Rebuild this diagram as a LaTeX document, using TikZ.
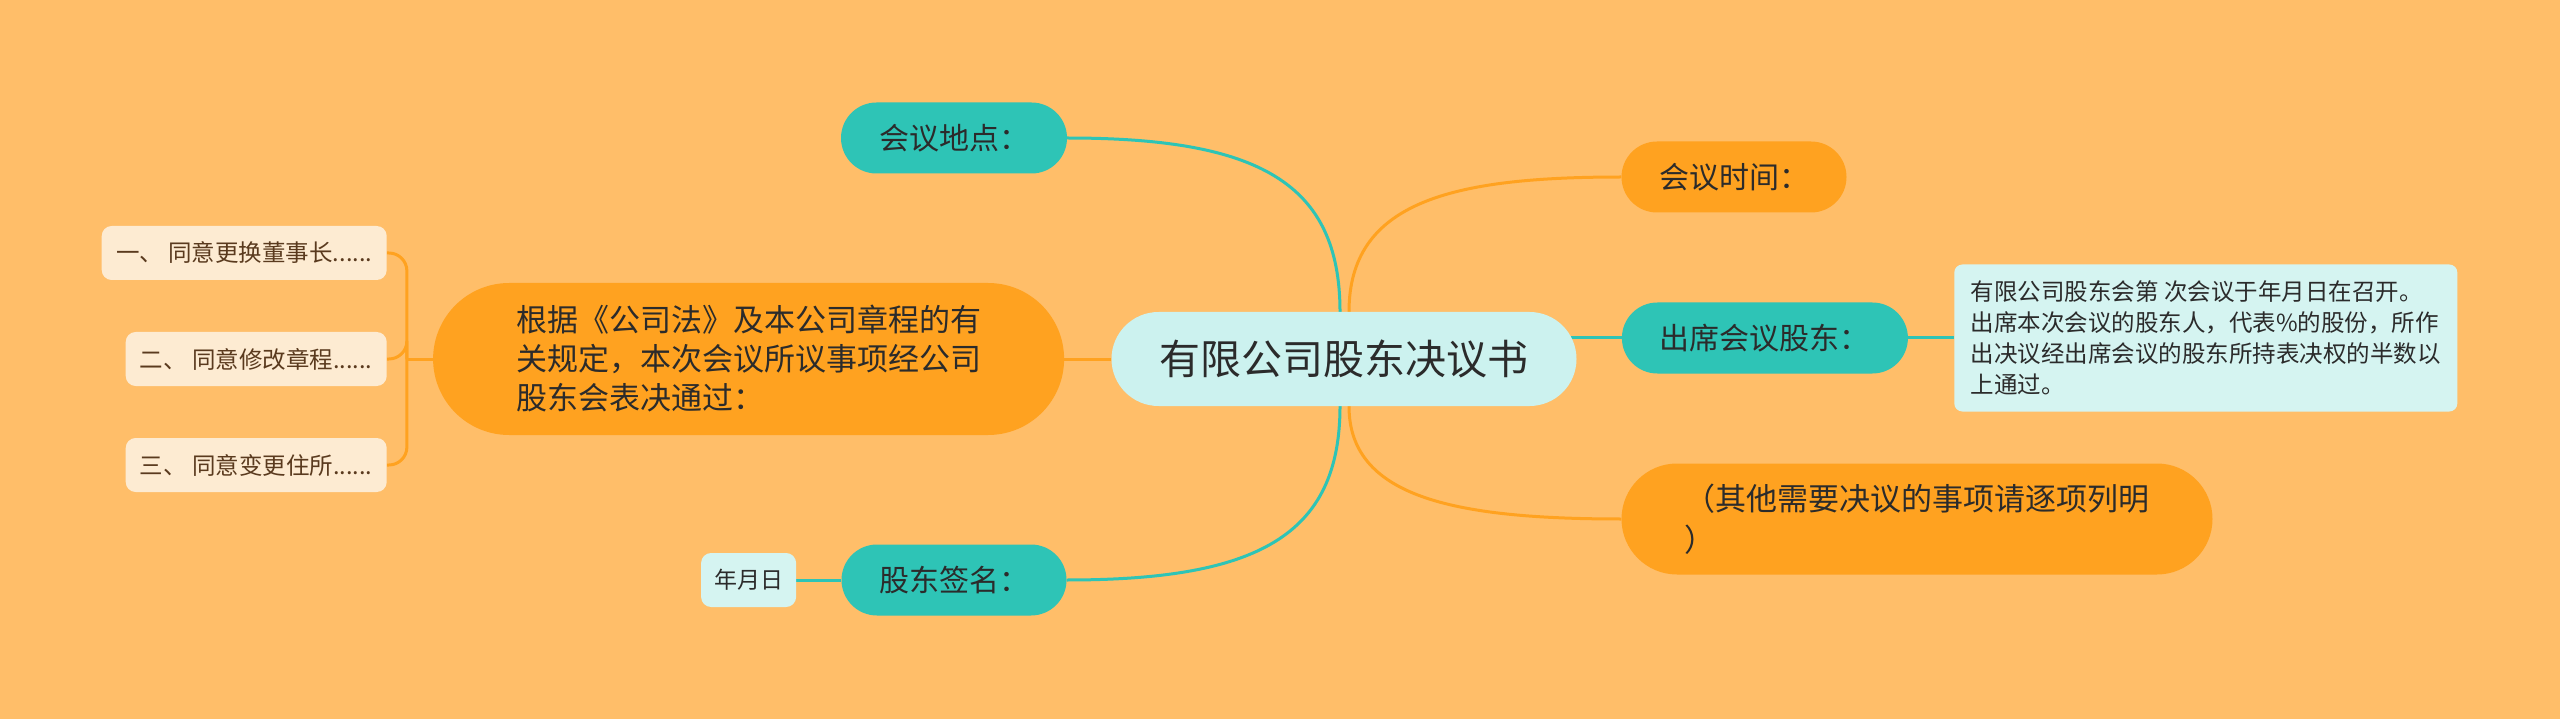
\documentclass[tikz,border=0pt]{standalone}
\usepackage{fontspec}
\setmainfont{Noto Sans CJK SC}
\usetikzlibrary{positioning, shapes.misc, backgrounds}

\definecolor{bgc}{HTML}{FFBE69}
\definecolor{orangec}{HTML}{FFA220}
\definecolor{tealc}{HTML}{2EC4B6}
\definecolor{rootc}{HTML}{CCF2EF}
\definecolor{notec}{HTML}{D5F4F1}
\definecolor{creamc}{HTML}{FDEBD2}
\definecolor{inkc}{HTML}{2B2B2B}
\definecolor{brownc}{HTML}{5A3A1E}

\begin{document}
\begin{tikzpicture}[
    x=1pt, y=-1pt,
    node distance=46pt,
    pill/.style={rounded rectangle, inner xsep=0pt, inner ysep=0pt, align=left, text=inkc, font=\fontsize{30}{40}\selectfont},
    rootnode/.style={pill, fill=rootc, minimum width=465pt, minimum height=94pt, font=\fontsize{41}{48}\selectfont},
    tealnode/.style={pill, fill=tealc, minimum height=71pt},
    orangenode/.style={pill, fill=orangec, minimum height=71pt},
    leaf/.style={rectangle, rounded corners=10pt, fill=creamc, text=brownc, minimum height=54pt, inner xsep=12pt, font=\fontsize{23.5}{28}\selectfont},
    note/.style={rectangle, rounded corners=8pt, fill=notec, text=inkc, align=left, inner xsep=12pt, font=\fontsize{23.5}{31}\selectfont},
    tline/.style={draw=tealc, line width=3pt},
    oline/.style={draw=orangec, line width=3pt}
]
\useasboundingbox (0,0) rectangle (2560,719);

\node[rootnode] (root) at (1344,359) {有限公司股东决议书};

\node[tealnode, minimum width=226pt] (loc) at (954,138) {会议地点：};
\node[tealnode, minimum width=225pt] (sign) at (954,580) {股东签名：};
\node[note, minimum width=95pt, minimum height=54pt, inner xsep=0pt, rounded corners=10pt, font=\fontsize{23}{28}\selectfont, left=45pt of sign] (date) {年月日};

\node[orangenode, minimum width=631pt, minimum height=152pt, font=\fontsize{31}{39}\selectfont, left=47pt of root] (basis) {根据《公司法》及本公司章程的有\\关规定，本次会议所议事项经公司\\股东会表决通过：};
\node[leaf, minimum width=285pt, left=46pt of basis, yshift=106pt] (r1) {一、 同意更换董事长......};
\node[leaf, minimum width=261pt, left=46pt of basis] (r2) {二、 同意修改章程......};
\node[leaf, minimum width=261pt, left=46pt of basis, yshift=-106pt] (r3) {三、 同意变更住所......};

\node[orangenode, minimum width=225pt] (time) at (1734,177) {会议时间：};
\node[tealnode, minimum width=286pt, right=45pt of root, yshift=21pt] (attend) {出席会议股东：};
\node[note, minimum width=503pt, minimum height=147pt, right=46pt of attend] (detail) {有限公司股东会第 次会议于年月日在召开。\\出席本次会议的股东人，代表\%的股份，所作\\出决议经出席会议的股东所持表决权的半数以\\上通过。};
\node[orangenode, minimum width=591pt, minimum height=111pt, font=\fontsize{31}{41}\selectfont] (other) at (1917,519) {（其他需要决议的事项请逐项列明\\）};

\begin{scope}[on background layer]
    \fill[bgc] (0,0) rectangle (2560,719);
    \draw[tline] ([xshift=-4pt]root.north) .. controls +(0,-130) and +(190,0) .. (loc.east);
    \draw[tline] ([xshift=-4pt]root.south) .. controls +(0,130) and +(190,0) .. (sign.east);
    \draw[oline] ([xshift=5pt]root.north) .. controls +(0,-110) and +(-170,0) .. (time.west);
    \draw[oline] ([xshift=5pt]root.south) .. controls +(0,90) and +(-170,0) .. (other.west);
    \draw[tline] ([xshift=-20pt]root.east |- attend.west) -- (attend.west);
    \draw[tline] (attend.east) -- (detail.west);
    \draw[tline] (sign.west) -- (date.east);
    \draw[oline] (root.west) -- (basis.east);
    \coordinate (fork) at ([xshift=-26pt]basis.west);
    \draw[oline] (basis.west) -- (fork);
    \foreach \r in {r1,r2,r3}
        \draw[oline, rounded corners=18pt] (fork) |- (\r.east);
\end{scope}

\end{tikzpicture}
\end{document}
